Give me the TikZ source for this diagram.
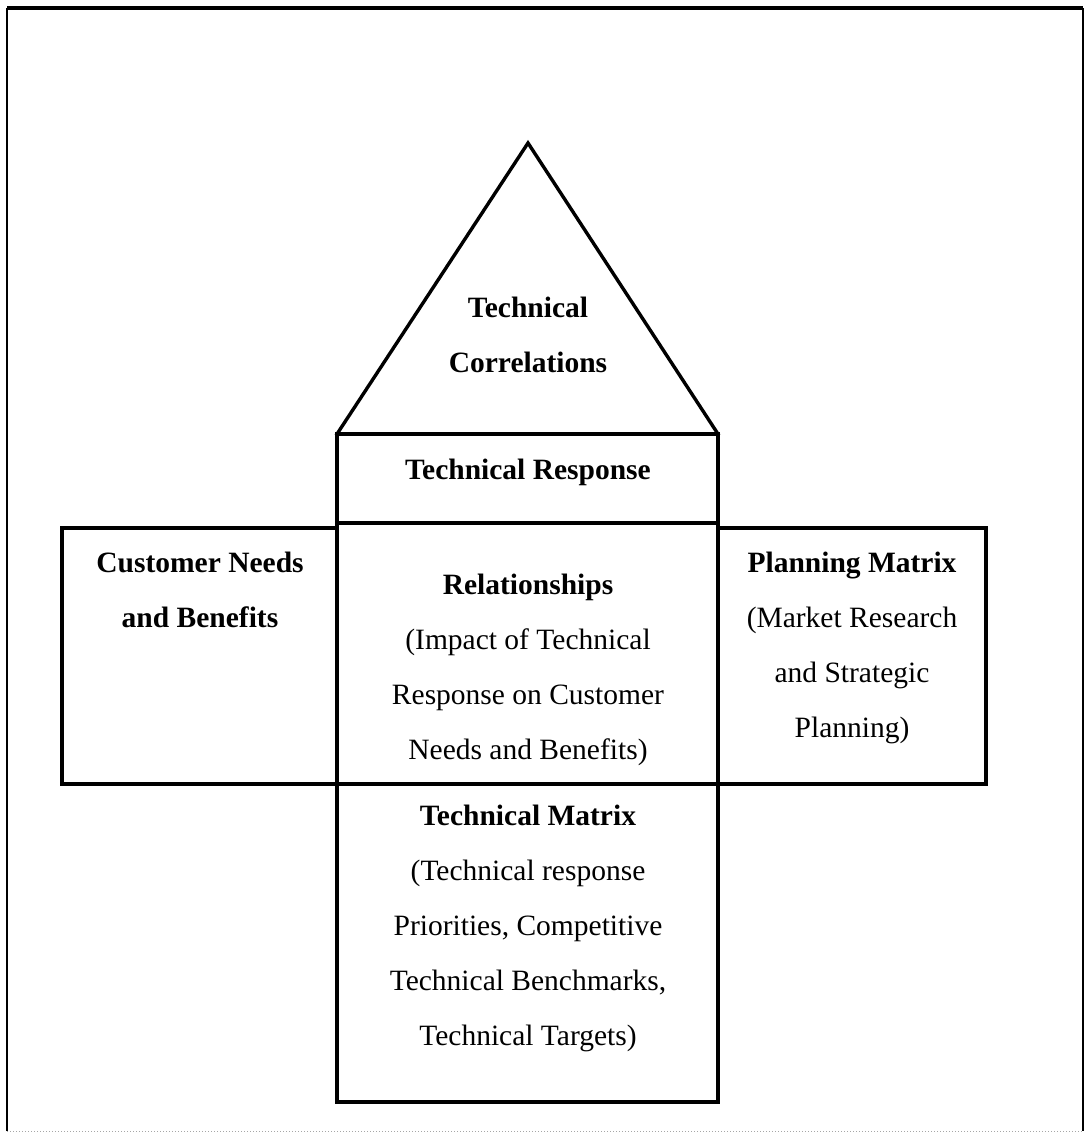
\documentclass[tikz,border=0pt]{standalone}
\usepackage{fontspec}
\setmainfont{Liberation Serif}
\begin{document}
\begin{tikzpicture}[x=1pt,y=-1pt,
  part/.style={line width=3.4pt, line join=miter, line cap=rect},
  % anchor=base sits on the baseline of the last line of a label
  txt/.style={font=\fontsize{29.5}{55}\selectfont, align=center, anchor=base, inner sep=0pt}]
\useasboundingbox (0,0) rectangle (1087,1141);

% outer frame
\coordinate (f1) at (7,1131);
\coordinate (f2) at (7,8);
\coordinate (f3) at (1083,8);
\coordinate (f4) at (1083,1131);
\draw[line width=2pt] (f1) -- (f2);
\draw[line width=3.5pt] (f2) -- (f3);
\draw[line width=2pt] (f3) -- (f4);
\draw[black!35, line width=1pt, dotted] (f1) -- (f4);

% roof
\coordinate (apex) at (528,143);
\coordinate (roofL) at (337,434);
\coordinate (roofR) at (718,434);
\draw[part] (roofL) -- (apex) -- (roofR);

% central column and wings
\draw[part] (337,434) rectangle (718,523);
\draw[part] (337,523) rectangle (718,784);
\draw[part] (337,784) rectangle (718,1102);
\draw[part] (62,528) rectangle (337,784);
\draw[part] (718,528) rectangle (986,784);

% labels
\node[txt] (corr) at (528,372) {\textbf{Technical}\\\textbf{Correlations}};
\node[txt] (resp) at (528,479) {\textbf{Technical Response}};
\node[txt] (cust) at (200,627) {\textbf{Customer Needs}\\\textbf{and Benefits}};
\node[txt] (rel) at (528,759) {\textbf{Relationships}\\(Impact of Technical\\Response on Customer\\Needs and Benefits)};
\node[txt] (plan) at (852,737) {\textbf{Planning Matrix}\\(Market Research\\and Strategic\\Planning)};
\node[txt] (tmat) at (528,1045) {\textbf{Technical Matrix}\\(Technical response\\Priorities, Competitive\\Technical Benchmarks,\\Technical Targets)};
\end{tikzpicture}
\end{document}
